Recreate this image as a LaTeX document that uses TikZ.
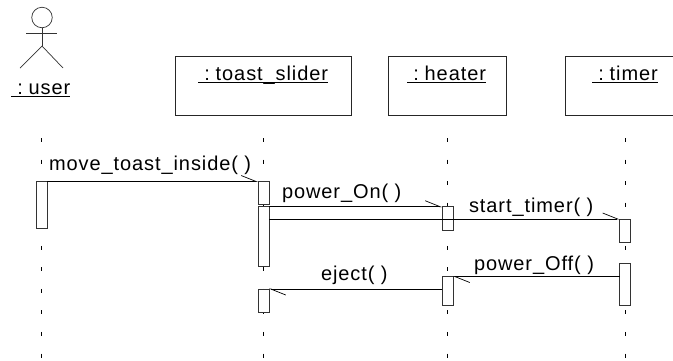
\documentclass[tikz,border=0pt]{standalone}
\usepackage{fontspec}
\setmainfont[LetterSpace=4.6]{Liberation Sans}
\usetikzlibrary{arrows.meta}
\newcommand\ulab[1]{\setbox0\hbox{#1}\rlap{\rule[-3pt]{\wd0}{1pt}}\box0}
\tikzset{
  x=1pt,y=-1pt,
  objbox/.style={draw=black!85,line width=.9pt,fill=white,minimum height=59pt,inner sep=0,outer sep=0},
  act/.style={draw=black!80,line width=.9pt,fill=white,minimum width=11pt,inner sep=0,outer sep=0},
  txt/.style={anchor=base west,inner sep=0,outer sep=0,font=\fontsize{20}{22}\selectfont},
  life/.style={line width=.7pt,black,dash pattern=on 4pt off 17.55pt},
  msg/.style={line width=.8pt,black,-{Straight Barb[harpoon,length=15pt,width=12pt,line width=.7pt]}},
  actor/.style={line width=.7pt,black!80}
}
\newcommand\actbox[4]{\node[act,minimum height=#4pt-#3pt,anchor=north] (#1) at (#2,#3) {};}
\begin{document}
\begin{tikzpicture}
\useasboundingbox (0,0) rectangle (673,360);
% lifelines
\coordinate (lu) at (41.5,138); \coordinate (lue) at (41.5,360);
\coordinate (ls) at (263.5,138); \coordinate (lse) at (263.5,360);
\coordinate (lh) at (447.5,138); \coordinate (lhe) at (447.5,360);
\coordinate (lt) at (625.5,138); \coordinate (lte) at (625.5,360);
\draw[life] (lu)--(lue);
\draw[life] (ls)--(lse);
\draw[life] (lh)--(lhe);
\draw[life] (lt)--(lte);
% actor
\node[circle,draw=black!80,line width=.7pt,minimum size=20.5pt,inner sep=0,outer sep=0] (head) at (42,17.5) {};
\coordinate (armL) at (26,33); \coordinate (armR) at (57,33);
\coordinate (hip) at (42,46); \coordinate (legL) at (20,68); \coordinate (legR) at (63,68);
\draw[actor] (head.south)--(hip);
\draw[actor] (armL)--(armR);
\draw[actor] (legL)--(hip)--(legR);
\node[txt] (userlab) at (11,94) {\ulab{\ :\kern-.8pt\ user}};
% objects
\node[objbox,minimum width=175.5pt,anchor=north west] (slider) at (175.5,56) {};
\node[objbox,minimum width=118pt,anchor=north west] (heater) at (388,56) {};
\node[objbox,minimum width=130pt,anchor=north west] (timer) at (565.5,56) {};
\node[txt] (sliderlab) at (198,80) {\ulab{\ :\kern-.8pt\ toast\_slider}};
\node[txt] (heaterlab) at (407,80) {\ulab{\ :\kern-.8pt\ heater}};
\node[txt] (timerlab) at (592,80) {\ulab{\ :\kern-.8pt\ timer}};
% activations
\actbox{u1}{41.5}{181.5}{228}
\actbox{s1}{263.5}{181.5}{204.5}
\actbox{s2}{263.5}{206.7}{266.5}
\actbox{s3}{263.5}{289}{312.5}
\actbox{h1}{447.5}{206.7}{230}
\actbox{h2}{447.5}{276.5}{305.5}
\actbox{t1}{625}{219}{242}
\actbox{t2}{625}{263.5}{305}
% messages
\draw[msg] (u1.north east)--(s1.north west);
\draw[msg] (s2.north east)--(h1.north west);
\draw[msg] (s2.east |- t1.north)--(t1.north west);
\draw[msg] (t2.west |- h2.north)--(h2.north east);
\draw[msg] (h2.west |- s3.north)--(s3.north east);
% labels
\node[txt] (m1) at (49,170) {move\_toast\_inside( )};
\node[txt] (m2) at (282,198.3) {power\_On( )};
\node[txt] (m3) at (469,212.7) {start\_timer( )};
\node[txt] (m4) at (474,270) {power\_Off( )};
\node[txt] (m5) at (321,280) {eject( )};
\end{tikzpicture}
\end{document}
